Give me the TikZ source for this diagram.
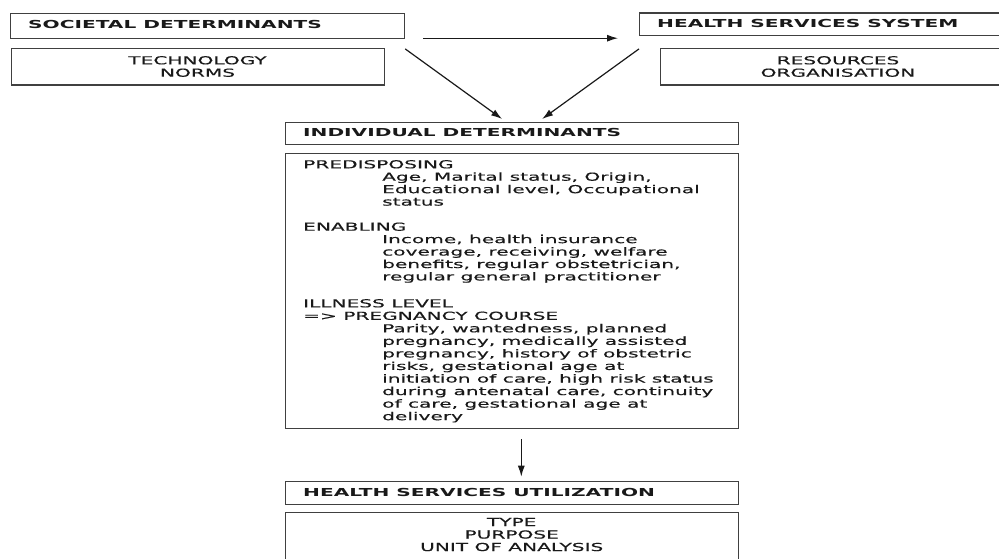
\documentclass[tikz,border=0pt]{standalone}
\usepackage{fontspec}
\setmainfont{DejaVu Sans}[FakeStretch=1.83, UprightFeatures={FakeBold=0.4}]
\usetikzlibrary{arrows.meta,calc}
\begin{document}
\begin{tikzpicture}[x=1pt,y=-1pt,
  box/.style={draw=black!75, line width=1.2pt, anchor=north west, inner sep=0pt},
  txt/.style={anchor=base west, inner sep=0pt, font=\fontsize{11}{12.5}\selectfont, text=black!90},
  htxt/.style={txt, font=\fontsize{11}{12.5}\selectfont\bfseries},
  ctxt/.style={txt, anchor=base},
  arr/.style={-{Latex[length=11pt,width=7pt]}, line width=1.2pt, draw=black!90}]
\useasboundingbox (0,0) rectangle (999,558);

% boxes
\node[box, minimum width=394pt, minimum height=25pt] (soc) at (10,12.7) {};
\node[box, minimum width=373pt, minimum height=36.6pt] (tech) at (10.7,47.7) {};
\node[box, minimum width=372pt, minimum height=22.7pt] (hss) at (639,12.3) {};
\node[box, minimum width=350pt, minimum height=36.6pt] (res) at (660,47.7) {};
\node[box, minimum width=453pt, minimum height=22pt] (ind) at (285,122) {};
\node[box, minimum width=453pt, minimum height=275pt] (big) at (285,153) {};
\node[box, minimum width=453pt, minimum height=23pt] (hsu) at (285,481) {};
\node[box, minimum width=453pt, minimum height=60pt] (out) at (285,512) {};

% headings
\node[htxt] (socT) at (28,28.3) {SOCIETAL DETERMINANTS};
\node[htxt] (hssT) at (657,27.3) {HEALTH SERVICES SYSTEM};
\node[htxt] (indT) at (303,136.7) {INDIVIDUAL DETERMINANTS};
\node[htxt] (hsuT) at (303,496.7) {HEALTH SERVICES UTILIZATION};

% centred contents
\node[ctxt] (techA) at (197.5,64.3) {TECHNOLOGY};
\node[ctxt] (techB) at (197.5,76.7) {NORMS};
\node[ctxt] (resA) at (838,64.3) {RESOURCES};
\node[ctxt] (resB) at (838,76.7) {ORGANISATION};
\node[ctxt] (outA) at (511.7,526) {TYPE};
\node[ctxt] (outB) at (511.7,538.5) {PURPOSE};
\node[ctxt] (outC) at (511.7,551) {UNIT OF ANALYSIS};

% individual determinants contents
\node[txt] (preL) at (303,168.3) {PREDISPOSING};
\foreach \t [count=\i from 0] in {{Age, Marital status, Origin,},{Educational level, Occupational},{status}}
  \node[txt] (pre\i) at (382,180.7+12.45*\i) {\t};
\node[txt] (enaL) at (303,230.7) {ENABLING};
\foreach \t [count=\i from 0] in {{Income, health insurance},{coverage, receiving, welfare},{benefits, regular obstetrician,},{regular general practitioner}}
  \node[txt] (ena\i) at (382,243.1+12.45*\i) {\t};
\node[txt] (illL) at (303,307.3) {ILLNESS LEVEL};
\node[txt] (illM) at (303,319.8) {=> PREGNANCY COURSE};
\foreach \t [count=\i from 0] in {{Parity, wantedness, planned},{pregnancy, medically assisted},{pregnancy, history of obstetric},{risks, gestational age at},{initiation of care, high risk status},{during antenatal care, continuity},{of care, gestational age at},{delivery}}
  \node[txt] (ill\i) at (382,332.3+12.55*\i) {\t};

% connectors
\draw[arr, shorten <=18pt, shorten >=21pt] ($(soc.south east)+(0,-0.7)$) -- ($(soc.south east -| hss.west)+(0,-0.7)$);
\draw[arr] ($(soc.south east)+(0,10)$) -- ($(ind.north)+(-10,-3)$);
\draw[arr] ($(hss.south west)+(0,12.7)$) -- ($(ind.north)+(30,-3)$);
\draw[arr] ($(big.south)+(9.2,10)$) -- ($(hsu.north)+(9.2,-4.3)$);
\end{tikzpicture}
\end{document}
